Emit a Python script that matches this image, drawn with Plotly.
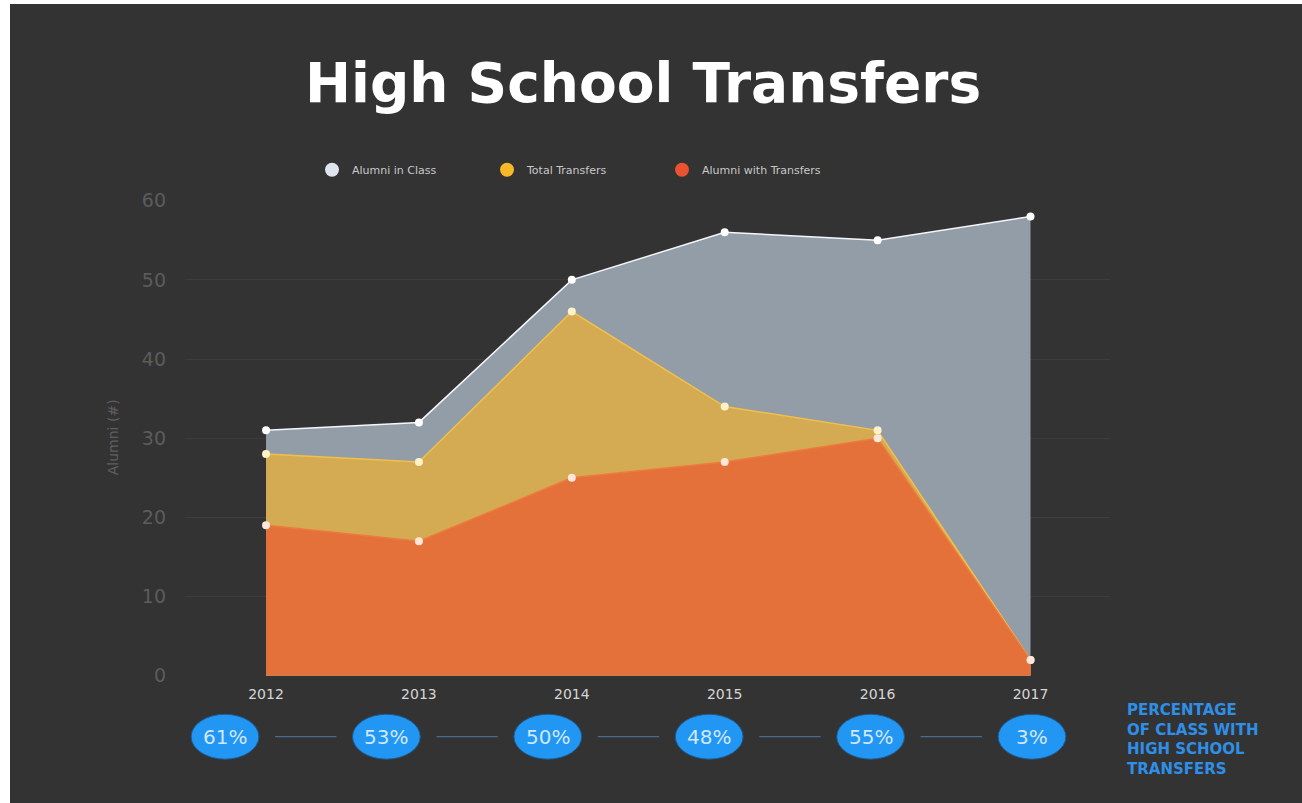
import plotly.graph_objects as go

years = [2012, 2013, 2014, 2015, 2016, 2017]
alumni_in_class = [31, 32, 50, 56, 55, 58]
total_transfers = [28, 27, 46, 34, 31, 2]
alumni_with_transfers = [19, 17, 25, 27, 30, 2]
pct_labels = ["61%", "53%", "50%", "48%", "55%", "3%"]
y_ticks = [0, 10, 20, 30, 40, 50, 60]

W = 1302
S = 0.975          # observed vertical scale of the capture
FH = 824           # figure height so that it fills the capture
TOP = -11          # div offset compensating capture offset
BG = "#333333"
FONT = "DejaVu Sans"

def py(p):
    return 1 - (p / S) / FH

def px(p):
    return p / W

fig = go.Figure()

series = [
    ("Alumni in Class", alumni_in_class, "rgb(146,157,168)", "#f4f6fa", "#ffffff", "#dfe5ef"),
    ("Total Transfers", total_transfers, "rgb(212,170,82)", "#f2c04a", "#fff2c8", "#f7b928"),
    ("Alumni with Transfers", alumni_with_transfers, "rgb(229,113,58)", "#ee7a3e", "#ffe6da", "#ea5230"),
]
for name, vals, fill, line, mk, legc in series:
    fig.add_trace(go.Scatter(
        x=years, y=vals, name=name, mode="lines+markers",
        fill="tozeroy", fillcolor=fill,
        line=dict(color=line, width=1.5),
        marker=dict(color=mk, size=8),
        showlegend=False, hoverinfo="x+y+name",
    ))
for name, vals, fill, line, mk, legc in series:
    fig.add_trace(go.Scatter(
        x=[None], y=[None], name=name, mode="markers",
        marker=dict(color=legc, size=14), showlegend=True,
    ))

# bottom percentage row on its own axis
X2L = 10
x2_lo = -(225 - X2L) / 161.4
x2_hi = 5 + (W - 1032) / 161.4
fig.add_trace(go.Scatter(x=list(range(len(years))), y=[0.5] * len(years),
                         mode="markers", marker=dict(size=1, color="rgba(0,0,0,0)"),
                         xaxis="x2", yaxis="y2", showlegend=False, hoverinfo="skip"))

shapes = [dict(type="rect", xref="paper", yref="paper", x0=px(10), x1=1, y0=-0.02, y1=py(4),
               fillcolor=BG, line=dict(width=0), layer="below")]
cy = py(738)
hh = (22.5 / S) / FH
for i, lab in enumerate(pct_labels):
    shapes.append(dict(type="circle", xref="x2", yref="paper",
                       x0=i - 0.21, x1=i + 0.21, y0=cy - hh, y1=cy + hh,
                       fillcolor="#2196f3", line=dict(color="#1d5a8f", width=1)))
    if i < len(pct_labels) - 1:
        shapes.append(dict(type="line", xref="x2", yref="paper",
                           x0=i + 0.31, x1=i + 0.69, y0=cy, y1=cy,
                           line=dict(color="#4f7aa6", width=1)))

annotations = []
for i, lab in enumerate(pct_labels):
    annotations.append(dict(x=i, y=cy, xref="x2", yref="paper", text=lab, showarrow=False,
                            font=dict(family=FONT, size=20, color="#cfe7ff"),
                            xanchor="center", yanchor="middle"))
annotations.append(dict(x=px(1125), y=py(741), xref="paper", yref="paper",
                        text="PERCENTAGE<br>OF CLASS WITH<br>HIGH SCHOOL<br>TRANSFERS",
                        showarrow=False, align="left", xanchor="left", yanchor="middle",
                        font=dict(family=FONT, size=15, color="#2f8fe6", weight="bold")))
annotations.append(dict(x=px(643), y=py(83), xref="paper", yref="paper",
                        text="High School Transfers", showarrow=False,
                        xanchor="center", yanchor="middle",
                        font=dict(family=FONT, size=55, color="#ffffff", weight="bold")))
annotations.append(dict(x=px(113), y=py(438), xref="paper", yref="paper",
                        text="Alumni (#)", showarrow=False, textangle=-90,
                        xanchor="center", yanchor="middle",
                        font=dict(family=FONT, size=14, color="#5f5f5f")))

fig.update_layout(
    width=W, height=FH,
    margin=dict(l=0, r=0, t=0, b=0),
    paper_bgcolor="#ffffff", plot_bgcolor=BG,
    shapes=shapes, annotations=annotations,
    showlegend=True,
    legend=dict(orientation="h", x=px(312), y=py(170), xanchor="left", yanchor="middle",
                bgcolor="rgba(0,0,0,0)",
                font=dict(family=FONT, size=11, color="#c8c8c8"),
                itemwidth=30, entrywidth=130, entrywidthmode="pixels", tracegroupgap=0),
    xaxis=dict(domain=[px(185), px(1110)], range=[2011.47, 2017.52],
               tickvals=years, ticktext=[str(y) for y in years],
               showgrid=False, zeroline=False, showline=False,
               tickfont=dict(family=FONT, size=14, color="#d6d6d6"),
               ticks="", ticklabelstandoff=8),
    yaxis=dict(domain=[py(677), py(201)], range=[0, 60],
               tickvals=y_ticks, showgrid=True, gridcolor="#3d3d3d", gridwidth=1,
               zeroline=False, showline=False,
               tickfont=dict(family=FONT, size=19, color="#5c5c5c"),
               ticks="", ticklabelstandoff=18),
    xaxis2=dict(domain=[px(X2L), 1], range=[x2_lo, x2_hi],
                visible=False, anchor="y2"),
    yaxis2=dict(domain=[0, 0.12], range=[0, 1], visible=False, anchor="x2"),
)

post = ("document.body.style.margin='0';document.body.style.overflow='hidden';"
        "var d=document.getElementById('{plot_id}');d.style.position='fixed';"
        "d.style.left='0px';d.style.top='" + str(TOP) + "px';")
fig.write_html("out.html", post_script=post, config={"displayModeBar": False})
